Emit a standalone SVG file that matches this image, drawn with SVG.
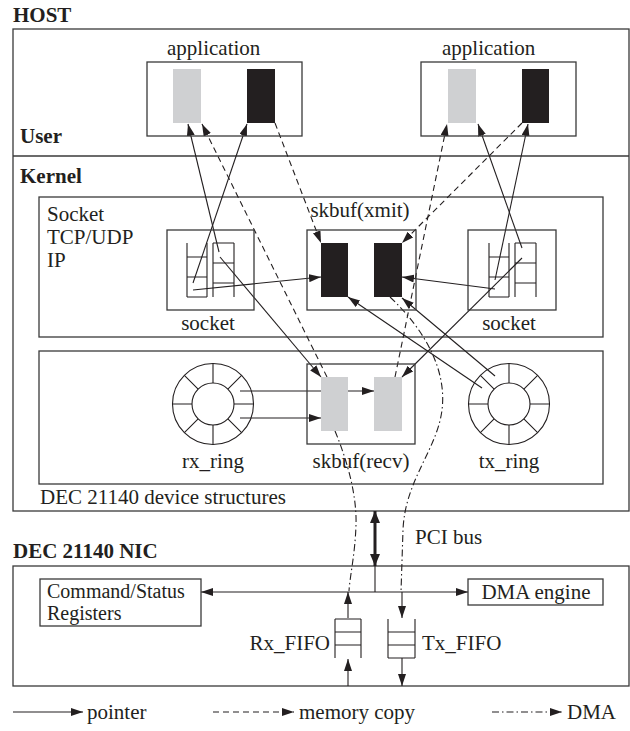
<svg xmlns="http://www.w3.org/2000/svg" xmlns:xlink="http://www.w3.org/1999/xlink" width="630" height="731" viewBox="0 0 630 731">
<style>
text{font-family:"Liberation Serif","Times New Roman",serif;font-size:21px;fill:#231f20}
.b{font-weight:bold}
.sm{font-size:20px}
.box{fill:none;stroke:#3a3a3a;stroke-width:1.3}
.ln{fill:none;stroke:#231f20;stroke-width:1.1}
.ptr{fill:none;stroke:#231f20;stroke-width:1.1;marker-end:url(#ah)}
.mc{fill:none;stroke:#231f20;stroke-width:1.1;stroke-dasharray:6,4;marker-end:url(#ah)}
.dma{fill:none;stroke:#231f20;stroke-width:1.1;stroke-dasharray:7,3,1.5,3}
.gray{fill:#cfd0d2}
.blk{fill:#231f20}
</style>
<defs>
<marker id="ah" viewBox="0 0 12 8" refX="12" refY="4" markerWidth="12" markerHeight="8" markerUnits="userSpaceOnUse" orient="auto-start-reverse"><path d="M0,0 L12,4 L0,8 z" fill="#231f20"/></marker>
<marker id="ahb" viewBox="0 0 12 10" refX="12" refY="5" markerWidth="12" markerHeight="10" markerUnits="userSpaceOnUse" orient="auto-start-reverse"><path d="M0,0 L12,5 L0,10 z" fill="#231f20"/></marker>
<g id="ring">
<circle r="40.5" class="ln"/>
<circle r="21" class="ln"/>
<path class="ln" d="M21,0 H40.5 M-21,0 H-40.5 M0,21 V40.5 M0,-21 V-40.5 M14.85,14.85 L28.64,28.64 M-14.85,14.85 L-28.64,28.64 M14.85,-14.85 L28.64,-28.64 M-14.85,-14.85 L-28.64,-28.64"/>
</g>
<path id="sockq" class="ln" d="M0,0 V54 M20,0 V54 M0,14 H20 M0,34 H20 M0,54 H20 M26,0 V54 M47,0 V54 M26,0 H47 M26,20 H47 M26,40 H47"/>
</defs>

<!-- section titles and containers -->
<g id="host">
<text x="13" y="22" class="b">HOST</text>
<rect x="13" y="29" width="616" height="482" class="box"/>
<line x1="13" y1="156" x2="629" y2="156" class="box"/>
<text x="20" y="143" class="b">User</text>
<text x="20" y="183" class="b">Kernel</text>
</g>

<g id="protocol_stack">
<rect x="39" y="197" width="564" height="140" class="box"/>
<text x="47" y="221">Socket</text>
<text x="47" y="244">TCP/UDP</text>
<text x="47" y="267">IP</text>
</g>

<g id="device_structures">
<rect x="39" y="351" width="564" height="133" class="box"/>
<text x="40" y="504">DEC 21140 device structures</text>
</g>

<g id="nic">
<text x="13" y="558" class="b">DEC 21140 NIC</text>
<rect x="13" y="566" width="616" height="120" class="box"/>
</g>

<!-- connectors -->
<g id="connectors">
<!-- pointers -->
<path class="ptr" d="M193,283 L247,124"/>
<path class="ptr" d="M219,252 L188,124"/>
<path class="ptr" d="M193,290 L321,277"/>
<path class="ptr" d="M220,257 L321,377"/>
<path class="ptr" d="M495,280 L528,124"/>
<path class="ptr" d="M522,248 L478,124"/>
<path class="ptr" d="M495,289 L402,277"/>
<path class="ptr" d="M522,258 L402,377"/>
<path class="ptr" d="M482,388 L348,297"/>
<path class="ptr" d="M495,376 L402,298"/>
<path class="ptr" d="M240,391 L374,391"/>
<path class="ptr" d="M240,418 L321,418"/>
<!-- memory copies -->
<path class="mc" d="M275,123 L321,243"/>
<path class="mc" d="M327,377 L202,124"/>
<path class="mc" d="M395,377 L447,124"/>
<path class="mc" d="M522,123 L402,243"/>
<!-- DMA -->
<path class="dma" d="M335,431 C347,460 357,495 356,525 S350,575 349,591"/>
<path class="dma" d="M390,297 C425,330 447,370 442,410 C437,450 405,480 403,530 L401,592"/>
<!-- NIC internal -->
<path class="ln" d="M201,592 H468" marker-start="url(#ah)" marker-end="url(#ah)"/>
<path class="ln" d="M375,566 V592"/>
<path fill="none" stroke="#231f20" stroke-width="3" d="M375,511 V566" marker-start="url(#ahb)" marker-end="url(#ahb)"/>
<path class="ptr" d="M348,618 V592"/>
<path class="ptr" d="M348,686 V659"/>
<path class="ptr" d="M402,592 V618"/>
<path class="ptr" d="M402,658 V686"/>
</g>

<!-- nodes -->
<g id="app_left">
<text x="167" y="55">application</text>
<rect x="147" y="62" width="155" height="74" class="box"/>
<rect x="173" y="69" width="28" height="54" class="gray"/>
<rect x="247" y="69" width="28" height="54" class="blk"/>
</g>

<g id="app_right">
<text x="442" y="55">application</text>
<rect x="421" y="62" width="155" height="74" class="box"/>
<rect x="448" y="69" width="28" height="54" class="gray"/>
<rect x="522" y="69" width="27" height="54" class="blk"/>
</g>

<g id="socket_left">
<rect x="167" y="230" width="87" height="80" class="box"/>
<use xlink:href="#sockq" href="#sockq" x="187" y="243"/>
<text x="208" y="330" text-anchor="middle">socket</text>
</g>

<g id="skbuf_xmit">
<text x="360" y="217" text-anchor="middle">skbuf(xmit)</text>
<rect x="307" y="230" width="109" height="80" class="box"/>
<rect x="321" y="243" width="27" height="54" class="blk"/>
<rect x="374" y="243" width="28" height="54" class="blk"/>
</g>

<g id="socket_right">
<rect x="468" y="230" width="88" height="80" class="box"/>
<use xlink:href="#sockq" href="#sockq" x="489" y="243"/>
<text x="509" y="330" text-anchor="middle">socket</text>
</g>

<g id="rx_ring">
<use xlink:href="#ring" href="#ring" x="213" y="404"/>
<text x="213" y="468" text-anchor="middle">rx_ring</text>
</g>

<g id="skbuf_recv">
<rect x="307" y="364" width="108" height="80" class="box"/>
<rect x="321" y="377" width="27" height="54" class="gray"/>
<rect x="374" y="377" width="28" height="54" class="gray"/>
<text x="361" y="468" text-anchor="middle">skbuf(recv)</text>
</g>

<g id="tx_ring">
<use xlink:href="#ring" href="#ring" x="509" y="404"/>
<text x="509" y="468" text-anchor="middle">tx_ring</text>
</g>

<g id="pci_bus">
<text x="415" y="544">PCI bus</text>
</g>

<g id="csr">
<rect x="40" y="579" width="161" height="47" class="box"/>
<text x="47" y="597.5" class="sm">Command/Status</text>
<text x="47" y="620" class="sm">Registers</text>
</g>

<g id="dma_engine">
<rect x="468" y="579" width="135" height="26" class="box"/>
<text x="536" y="599" text-anchor="middle">DMA engine</text>
</g>

<g id="rx_fifo">
<path class="ln" d="M335,619 V658 M361,619 V658 M335,619 H361 M335,632 H361 M335,645 H361"/>
<text x="330" y="650" text-anchor="end">Rx_FIFO</text>
</g>

<g id="tx_fifo">
<path class="ln" d="M388,619 V658 M415,619 V658 M388,632 H415 M388,645 H415 M388,658 H415"/>
<text x="422" y="650">Tx_FIFO</text>
</g>

<g id="legend">
<path class="ptr" d="M13,712 H83"/>
<text x="87" y="719">pointer</text>
<path class="mc" d="M213,712 H294"/>
<text x="299" y="719">memory copy</text>
<path class="dma" d="M492,712 H562" marker-end="url(#ah)"/>
<text x="567" y="719">DMA</text>
</g>
</svg>
